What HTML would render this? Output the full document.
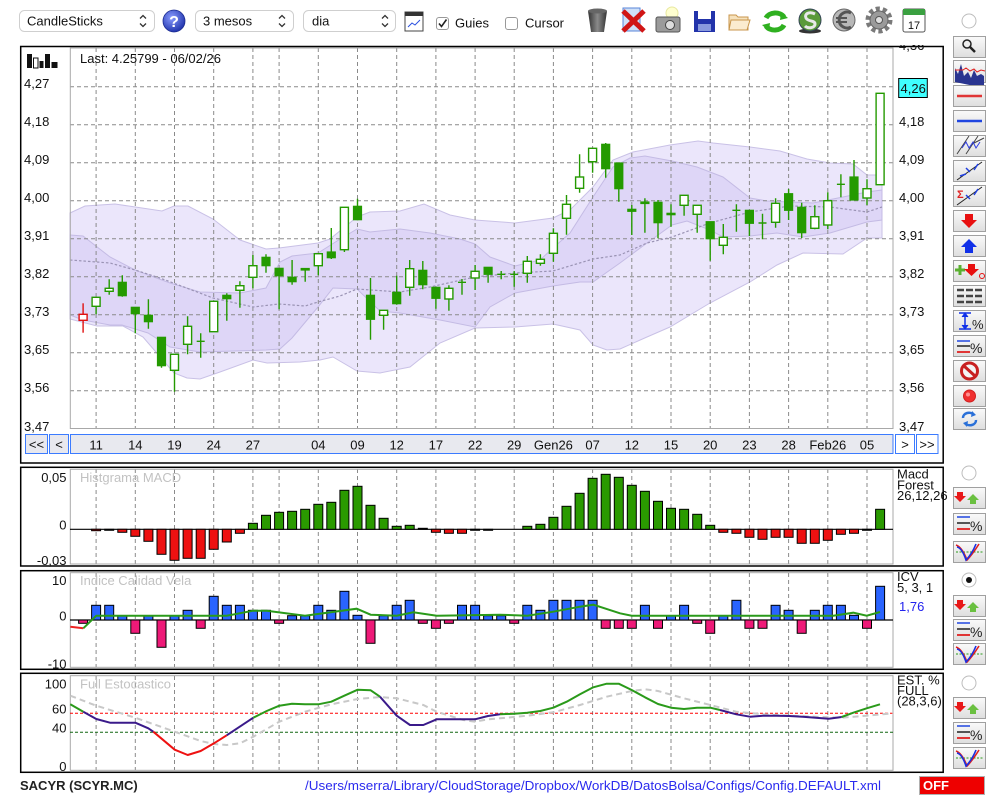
<!DOCTYPE html>
<html><head><meta charset="utf-8"><style>
html,body{margin:0;padding:0;background:#fff;width:1000px;height:800px;overflow:hidden}
svg{display:block;font-family:"Liberation Sans",Arial,sans-serif}
.t{font-size:13px;fill:#111}
.tt{font-size:13px;fill:#c2c2c2}
.grid{stroke:#8a8a8a;stroke-width:1;stroke-dasharray:4 3;fill:none}
.cw{stroke:#249a00;stroke-width:1.4;fill:none}
.cf{fill:#249a00;stroke:#249a00;stroke-width:1.2}
.ch{fill:#fff;stroke:#249a00;stroke-width:1.4}
.mg rect{fill:#2a9a00;stroke:#000;stroke-width:1}
.mr rect{fill:#ee1111;stroke:#000;stroke-width:1}
.ib rect{fill:#2a64ff;stroke:#000;stroke-width:1}
.ip rect{fill:#ee1a78;stroke:#000;stroke-width:1}
.btn{fill:url(#bg);stroke:#a0a0a0;stroke-width:1}
</style></head><body>
<svg width="1000" height="800" viewBox="0 0 1000 800" xmlns="http://www.w3.org/2000/svg">
<defs>
<linearGradient id="bg" x1="0" y1="0" x2="0" y2="1"><stop offset="0" stop-color="#fafafa"/><stop offset="1" stop-color="#dedede"/></linearGradient>
<radialGradient id="qb" cx="0.4" cy="0.35" r="0.7"><stop offset="0" stop-color="#8a9cff"/><stop offset="1" stop-color="#1b2fa8"/></radialGradient>
<linearGradient id="tr" x1="0" y1="0" x2="1" y2="0"><stop offset="0" stop-color="#333"/><stop offset="0.5" stop-color="#8a8a8a"/><stop offset="1" stop-color="#333"/></linearGradient>
<clipPath id="topclip"><rect x="890" y="45" width="60" height="10"/></clipPath>
</defs>

<!-- ============ TOOLBAR ============ -->
<rect x="19.5" y="10.5" width="135" height="21" rx="5" fill="#fff" stroke="#cfcfcf"/>
<text class="t" x="27" y="25.5" font-size="13.5">CandleSticks</text>
<path d="M140 18.5l3-3 3 3M140 23.5l3 3 3-3" stroke="#333" stroke-width="1.3" fill="none"/>
<circle cx="174" cy="21" r="11" fill="url(#qb)" stroke="#1a2a90" stroke-width="0.8"/>
<text x="174" y="27" text-anchor="middle" font-size="16" font-weight="bold" fill="#fff">?</text>
<rect x="195.5" y="10.5" width="98" height="21" rx="5" fill="#fff" stroke="#cfcfcf"/>
<text class="t" x="203" y="25.5" font-size="13.5">3 mesos</text>
<path d="M279 18.5l3-3 3 3M279 23.5l3 3 3-3" stroke="#333" stroke-width="1.3" fill="none"/>
<rect x="303.5" y="10.5" width="92" height="21" rx="5" fill="#fff" stroke="#cfcfcf"/>
<text class="t" x="312" y="25.5" font-size="13.5">dia</text>
<path d="M382 18.5l3-3 3 3M382 23.5l3 3 3-3" stroke="#333" stroke-width="1.3" fill="none"/>
<rect x="405" y="12" width="18" height="19" fill="#fff" stroke="#444"/>
<rect x="405" y="12" width="18" height="4" fill="#333"/>
<path d="M408 27l4-4 3 2 5-5" stroke="#2a50e0" stroke-width="1" fill="none"/>
<rect x="436.5" y="17.5" width="12" height="12" rx="2.5" fill="#fff" stroke="#999"/>
<path d="M439 23.5l2.5 3 5-7" stroke="#222" stroke-width="1.6" fill="none"/>
<text class="t" x="455" y="27.5" font-size="14">Guies</text>
<rect x="505.5" y="17.5" width="12" height="12" rx="2.5" fill="#fff" stroke="#999"/>
<text class="t" x="525" y="27.5" font-size="14">Cursor</text>
<!-- trash -->
<path d="M588 11h19l-3 21h-13z" fill="url(#tr)"/><ellipse cx="597.5" cy="11" rx="9.5" ry="2.5" fill="#666"/>
<!-- red x -->
<rect x="623" y="8" width="17" height="23" fill="#cfe0f8" stroke="#5a86d8"/>
<path d="M623 11l21 20M644 11l-21 20" stroke="#d01515" stroke-width="5"/>
<!-- camera -->
<circle cx="672" cy="13" r="6" fill="#ffffd0" stroke="#e8e8a0"/>
<rect x="656" y="17" width="24" height="15" rx="2" fill="#9a9a9a" stroke="#555"/>
<circle cx="670" cy="25" r="4.5" fill="#ddd" stroke="#444"/>
<!-- floppy -->
<rect x="694" y="11" width="21" height="21" fill="#2233aa"/>
<rect x="698" y="11" width="13" height="8" fill="#fff"/>
<rect x="698" y="24" width="13" height="7" fill="#8899dd"/>
<!-- folder -->
<path d="M729 15h7l2 2h10v13h-19z" fill="#f6e2bd" stroke="#c8964c"/>
<path d="M731 20h19l-3 10h-18z" fill="#fbecd0" stroke="#c8964c"/>
<!-- refresh -->
<path d="M766 18a10 8 0 0 1 18 -1" stroke="#2fb020" stroke-width="5" fill="none"/>
<path d="M784 25a10 8 0 0 1 -18 1" stroke="#2fb020" stroke-width="5" fill="none"/>
<path d="M781 12l7 6-8 2z M769 31l-7-6 8-2z" fill="#2fb020"/>
<!-- S coin -->
<ellipse cx="810" cy="31" rx="11" ry="2.5" fill="#333"/>
<circle cx="810" cy="20" r="11" fill="#5a9a3a" stroke="#345"/>
<path d="M815 14c-6-3-11 0-9 4s9 2 9 6-7 5-10 2" stroke="#e8e8e8" stroke-width="3" fill="none"/>
<!-- euro -->
<circle cx="844" cy="20" r="11" fill="#b8b8b8" stroke="#666"/>
<path d="M851 13a8 8 0 1 0 0 14" stroke="#555" stroke-width="3" fill="none"/>
<path d="M836 18h11M836 22h11" stroke="#555" stroke-width="2"/>
<!-- gear -->
<circle cx="879" cy="20" r="11" fill="none" stroke="#7a7a7a" stroke-width="5" stroke-dasharray="4 2.9"/>
<circle cx="879" cy="20" r="9" fill="#9a9a9a" stroke="#666"/>
<circle cx="879" cy="20" r="3.5" fill="#e0e0e0" stroke="#555"/>
<!-- calendar -->
<rect x="903" y="9" width="22" height="23" rx="2" fill="#fff" stroke="#555"/>
<rect x="903" y="9" width="22" height="6" fill="#3aa040"/>
<text x="914" y="29" text-anchor="middle" font-size="11" fill="#111">17</text>
<circle cx="969" cy="21" r="7" fill="#fff" stroke="#bdbdbd"/>

<!-- ============ RIGHT TOOL COLUMN ============ -->
<rect class="btn" x="953.5" y="36.5" width="32" height="21"/>
<circle cx="967" cy="44" r="4" fill="#eee" stroke="#222" stroke-width="1.5"/><path d="M970 47l5 5" stroke="#222" stroke-width="2.5"/>
<rect class="btn" x="953.5" y="60.5" width="32" height="22"/>
<path d="M955 82v-14l3 6 3-10 3 12 4-4 3 6 3-8 3 6 4-2 3 2v12z" fill="#2a3590"/>
<path d="M955 70h8l3-2 4 3 4-2 3 3 4-2 4 1" stroke="#e02020" fill="none"/>
<rect class="btn" x="953.5" y="85.5" width="32" height="21"/><path d="M957 96h25" stroke="#e03535" stroke-width="2.5"/>
<rect class="btn" x="953.5" y="110.5" width="32" height="21"/><path d="M957 121h25" stroke="#2046e0" stroke-width="2.5"/>
<rect class="btn" x="953.5" y="135.5" width="32" height="21"/>
<path d="M957 154l12-18M966 154l12-18M972 144l12-6" stroke="#444" fill="none"/><path d="M962 148l4-6 3 6 4-6 3 6 4-6" stroke="#3040e0" fill="none"/>
<rect class="btn" x="953.5" y="160.5" width="32" height="21"/>
<path d="M957 180l25-18" stroke="#222"/><path d="M966 168l4 4M978 164l-4 6M960 176l6-2" stroke="#2040e0" stroke-width="1.5"/>
<rect class="btn" x="953.5" y="185.5" width="32" height="21"/>
<path d="M957 205l25-18" stroke="#222"/><path d="M966 195l4 4M978 189l-4 6" stroke="#2040e0" stroke-width="1.5"/>
<text x="957" y="198" font-size="11" font-weight="bold" fill="#e02020">Σ</text>
<rect class="btn" x="953.5" y="210.5" width="32" height="21"/><path d="M965 214h8v6h4l-8 8-8-8h4z" fill="#e81010"/>
<rect class="btn" x="953.5" y="235.5" width="32" height="21"/><path d="M965 253h8v-6h4l-8-8-8 8h4z" fill="#1030e8"/>
<rect class="btn" x="953.5" y="260.5" width="32" height="21"/>
<path d="M955 270h10M960 265v10" stroke="#5ab030" stroke-width="3"/><path d="M968 264h7v5h4l-7.5 7-7.5-7h4z" fill="#e81010"/><circle cx="982" cy="276" r="2.5" fill="none" stroke="#e81010"/>
<rect class="btn" x="953.5" y="285.5" width="32" height="21"/>
<path d="M957 290h7M966 290h7M975 290h7M957 296h7M966 296h7M975 296h7M957 302h7M966 302h7M975 302h7" stroke="#444" stroke-width="2.5"/>
<rect class="btn" x="953.5" y="310.5" width="32" height="21"/>
<path d="M959 313h12M959 329h12M965 314v14" stroke="#1030e8" stroke-width="1.5"/><path d="M962 317l3-4 3 4M962 325l3 4 3-4" fill="#1030e8" stroke="#1030e8"/>
<text x="972" y="329" font-size="13" fill="#222">%</text>
<rect class="btn" x="953.5" y="335.5" width="32" height="21"/>
<path d="M957 341h13" stroke="#2046e0" stroke-width="1.5"/><path d="M957 346h13" stroke="#222" stroke-width="1.5"/><path d="M957 352h13" stroke="#e03535" stroke-width="2"/>
<text x="970" y="353" font-size="14" fill="#222">%</text>
<rect class="btn" x="953.5" y="360.5" width="32" height="21"/>
<circle cx="969.5" cy="371" r="8" fill="#f4f4f4" stroke="#c82020" stroke-width="3"/><path d="M964 366l11 10" stroke="#c82020" stroke-width="3"/>
<rect class="btn" x="953.5" y="385.5" width="32" height="21"/><circle cx="969.5" cy="396" r="6" fill="#f03030" stroke="#d02020"/><circle cx="968" cy="394.5" r="2" fill="#ff9090"/>
<rect class="btn" x="953.5" y="408.5" width="32" height="21"/>
<path d="M963 418a6 5 0 0 1 11 -3M976 420a6 5 0 0 1 -11 3" stroke="#2a70d8" stroke-width="2.5" fill="none"/>
<path d="M972 411l4 4-5 2zM967 427l-4-4 5-2z" fill="#2a70d8"/>

<!-- ============ MAIN PANEL ============ -->
<rect x="20.7" y="46.5" width="922.5" height="416.5" fill="#fff" stroke="#000" stroke-width="1.5"/>
<!-- bands -->
<polygon fill="#ebe6fb" stroke="#c9c1e6" stroke-width="1" points="70,213 85,206 115,204 162,211 174,206 188,206 213,219 240,240 266,249 279,248 318,243 330,239 357,217 370,212 400,211 424,204 450,215 475,220 515,223 553,218 570,210 593,187 613,160 633,152 670,145 698,141 713,143 750,147 780,151 807,159 830,163 853,164 867,175 882,175 882,238 867,238 843,254 803,253 777,265 750,282 710,303 670,327 647,337 620,349 607,350 593,345 580,330 553,324 515,327 475,328 440,343 410,367 380,373 357,371 333,357 320,360 300,362 267,363 253,360 220,372 200,379 187,378 174,373 143,337 123,326 97,326 70,319"/>
<polygon fill="#ded6f7" stroke="#c4bbe4" stroke-width="1" points="70,235 83,236 110,257 135,270 170,283 200,292 240,293 266,288 280,262 292,256 318,253 337,241 357,229 370,232 400,229 430,233 460,239 475,244 490,257 515,266 540,260 553,248 570,233 593,197 613,167 630,158 645,156 672,161 697,167 723,177 750,198 767,201 813,203 843,197 867,192 882,190 882,220 867,222 830,233 803,237 777,233 750,236 723,237 710,230 687,221 672,225 647,243 620,263 593,282 580,282 553,286 515,293 490,307 475,327 440,320 400,313 380,311 357,289 333,288 318,307 292,338 280,349 266,350 200,352 170,347 148,333 122,325 110,325 83,320 70,315"/>
<!-- grid -->
<path class="grid" d="M70 86.7H893M70 124.7H893M70 162.7H893M70 200.7H893M70 238.7H893M70 276.7H893M70 314.7H893M70 352.7H893M70 390.7H893"/>
<path class="grid" d="M96.1 48V428M135.3 48V428M174.5 48V428M213.7 48V428M252.9 48V428M279.1 48V428M318.3 48V428M357.5 48V428M396.7 48V428M435.9 48V428M475.1 48V428M514.2 48V428M553.4 48V428M592.6 48V428M631.8 48V428M671 48V428M710.2 48V428M749.4 48V428M788.6 48V428M827.8 48V428M867 48V428"/>
<polyline fill="none" stroke="#9a93b4" stroke-width="1.2" stroke-dasharray="2.5 2" points="70,260 110,263 135,270 160,278 213,298 253,307 279,304 305,306 318,302 340,296 357,289 400,292 430,287 475,277 515,273 553,271 593,259 620,255 647,243 672,237 710,223 750,212 790,206 830,207 867,212 882,207"/>
<rect x="70.3" y="48" width="822.7" height="380.5" fill="none" stroke="#a8a8a8"/>
<!-- candles: wicks -->
<path class="cw" d="M96.1 297.3V314.3M109.2 279.3V294.7M122.3 275.3V296.7M135.3 307.3V333.3M148.4 299.3V328.7M161.5 337.3V367.7M174.5 354.3V391.7M187.6 316.3V354.3M200.7 333.3V357.7M196.7 341.3H204.7M226.8 293.3V320.7M239.9 281.3V307.7M252.9 255V288.3M266 254.3V272.7M279.1 268.3V309.3M292.1 260V284.7M305.2 268.7V281.7M318.3 253.7V275.3M331.3 228V259M344.4 207.3V252M357.5 198.7V220.3M370.5 278V339.7M383.6 310.3V329.7M396.7 275.7V304.7M409.7 260V295.7M422.8 261V289.3M435.9 287.3V308.7M448.9 285.3V310.7M462 279V294.7M458 282.3H466M475.1 265V290M488.1 267.3V282.7M501.2 271V279.3M497.2 274.3H505.2M514.2 271V286.7M510.2 274.3H518.2M527.3 256V282.7M540.4 254.3V265.7M553.4 228.3V261.7M566.5 195V234.7M579.6 154.3V192.7M592.6 148.3V172.7M605.7 143V177.7M618.8 163V201.7M631.8 205V235M644.9 198.3V232.7M658 200V238.3M671 204.3V226.7M684.1 195.3V215.7M697.2 205.3V232.7M710.2 221.7V260.7M723.3 224V254.3M736.4 204.3V231.7M732.4 210.3H740.4M749.4 210.3V236M762.5 213.7V239.3M758.5 223H766.5M775.6 198.3V227.7M788.6 189V220M801.7 202.7V238M814.8 205.3V229.3M827.8 192.3V229.3M840.9 174.3V197.3M836.9 184.3H844.9M854 160V200M867 179.3V205"/>
<path d="M83.1 303.3V332.7" stroke="#e01010" stroke-width="1.4"/>
<rect x="79.1" y="314.3" width="8" height="6" fill="#fff" stroke="#e01010" stroke-width="1.4"/>
<!-- filled -->
<g class="cf">
<rect x="118.3" y="282.3" width="8" height="13.4"/><rect x="131.3" y="307.3" width="8" height="6.4"/><rect x="144.4" y="315.3" width="8" height="6.4"/><rect x="157.5" y="337.3" width="8" height="28.4"/><rect x="222.8" y="295.3" width="8" height="3.4"/><rect x="262" y="257.3" width="8" height="8.4"/><rect x="275.1" y="268.3" width="8" height="7.4"/><rect x="288.1" y="277.3" width="8" height="4.4"/><rect x="301.2" y="268.5" width="8" height="1.5"/><rect x="327.3" y="252" width="8" height="5.7"/><rect x="353.5" y="206.3" width="8" height="13.4"/><rect x="366.5" y="295.3" width="8" height="24"/><rect x="392.7" y="292.3" width="8" height="11.4"/><rect x="418.8" y="270.3" width="8" height="14.4"/><rect x="431.9" y="287.3" width="8" height="11"/><rect x="484.1" y="267.3" width="8" height="7"/><rect x="601.7" y="144.3" width="8" height="24.4"/><rect x="614.8" y="163" width="8" height="25.7"/><rect x="627.8" y="209.3" width="8" height="2"/><rect x="640.9" y="202" width="8" height="1.5"/><rect x="654" y="202.3" width="8" height="20.4"/><rect x="667" y="213.3" width="8" height="1.4"/><rect x="706.2" y="221.7" width="8" height="17"/><rect x="745.4" y="210.3" width="8" height="13"/><rect x="784.6" y="193.7" width="8" height="16.6"/><rect x="797.7" y="207.3" width="8" height="25.4"/><rect x="850" y="177" width="8" height="23"/>
</g>
<!-- hollow -->
<g class="ch">
<rect x="92.1" y="297.3" width="8" height="9"/><rect x="105.2" y="288.3" width="8" height="3"/><rect x="170.5" y="354.3" width="8" height="16"/><rect x="183.6" y="326.3" width="8" height="18"/><rect x="209.7" y="301.3" width="8" height="30.4"/><rect x="235.9" y="285.7" width="8" height="4.6"/><rect x="248.9" y="265.7" width="8" height="11.6"/><rect x="314.3" y="253.7" width="8" height="12"/><rect x="340.4" y="207.3" width="8" height="42.4"/><rect x="379.6" y="310.3" width="8" height="5"/><rect x="405.7" y="268.7" width="8" height="18.6"/><rect x="444.9" y="288.3" width="8" height="10.7"/><rect x="471.1" y="271.3" width="8" height="6.7"/><rect x="523.3" y="261.3" width="8" height="12"/><rect x="536.4" y="259.3" width="8" height="4"/><rect x="549.4" y="233.3" width="8" height="20"/><rect x="562.5" y="204.3" width="8" height="14"/><rect x="575.6" y="177" width="8" height="11.3"/><rect x="588.6" y="148.3" width="8" height="13.4"/><rect x="680.1" y="195.3" width="8" height="10"/><rect x="693.2" y="205.3" width="8" height="9"/><rect x="719.3" y="237.3" width="8" height="8"/><rect x="771.6" y="203.3" width="8" height="19"/><rect x="810.8" y="216.7" width="8" height="11.6"/><rect x="823.8" y="200.7" width="8" height="24.3"/><rect x="863" y="188.7" width="8" height="9.3"/><rect x="876.1" y="93.3" width="8" height="91.4"/>
</g>
<!-- labels -->
<g fill="#111">
<rect x="27" y="54" width="5" height="14"/><rect x="33.5" y="58" width="4.5" height="10" fill="#fff" stroke="#111"/><rect x="39.5" y="61" width="4" height="7"/><rect x="45" y="54" width="5" height="14"/><rect x="51.5" y="62" width="6" height="6"/>
</g>
<text class="t" x="80" y="63">Last: 4.25799 - 06/02/26</text>
<g class="t">
<text x="24" y="88">4,27</text><text x="24" y="126">4,18</text><text x="24" y="164">4,09</text><text x="24" y="202">4,00</text><text x="24" y="240">3,91</text><text x="24" y="278">3,82</text><text x="24" y="316">3,73</text><text x="24" y="354">3,65</text><text x="24" y="392">3,56</text><text x="24" y="431">3,47</text>
<text x="899" y="126">4,18</text><text x="899" y="164">4,09</text><text x="899" y="202">4,00</text><text x="899" y="240">3,91</text><text x="899" y="278">3,82</text><text x="899" y="316">3,73</text><text x="899" y="354">3,65</text><text x="899" y="392">3,56</text><text x="899" y="431">3,47</text>
</g>
<text class="t" x="899" y="50" clip-path="url(#topclip)">4,36</text>
<rect x="898.7" y="78.5" width="28.6" height="19" fill="#40ffff" stroke="#000"/>
<text class="t" x="900.5" y="93">4,26</text>
<!-- nav -->
<rect x="25.5" y="434.5" width="22" height="19" fill="#e8e8ee" stroke="#3b7bff"/>
<rect x="49.5" y="434.5" width="19" height="19" fill="#e8e8ee" stroke="#3b7bff"/>
<rect x="70.5" y="434.5" width="822.5" height="19" fill="#e8e9ef" stroke="#3b7bff"/>
<rect x="895.5" y="434.5" width="19" height="19" fill="#fff" stroke="#3b7bff"/>
<rect x="916.5" y="434.5" width="21.5" height="19" fill="#fff" stroke="#3b7bff"/>
<g class="t" text-anchor="middle">
<text x="36.5" y="449">&lt;&lt;</text><text x="59" y="449">&lt;</text><text x="905" y="449">&gt;</text><text x="927" y="449">&gt;&gt;</text>
<text x="96.1" y="449.5">11</text><text x="135.3" y="449.5">14</text><text x="174.5" y="449.5">19</text><text x="213.7" y="449.5">24</text><text x="252.9" y="449.5">27</text><text x="318.3" y="449.5">04</text><text x="357.5" y="449.5">09</text><text x="396.7" y="449.5">12</text><text x="435.9" y="449.5">17</text><text x="475.1" y="449.5">22</text><text x="514.2" y="449.5">29</text><text x="553.4" y="449.5">Gen26</text><text x="592.6" y="449.5">07</text><text x="631.8" y="449.5">12</text><text x="671" y="449.5">15</text><text x="710.2" y="449.5">20</text><text x="749.4" y="449.5">23</text><text x="788.6" y="449.5">28</text><text x="827.8" y="449.5">Feb26</text><text x="867" y="449.5">05</text>
</g>

<!-- ============ MACD PANEL ============ -->
<rect x="20.7" y="467.3" width="922.5" height="98.7" fill="#fff" stroke="#000" stroke-width="1.5"/>
<path class="grid" d="M96.1 469V564M135.3 469V564M174.5 469V564M213.7 469V564M252.9 469V564M279.1 469V564M318.3 469V564M357.5 469V564M396.7 469V564M435.9 469V564M475.1 469V564M514.2 469V564M553.4 469V564M592.6 469V564M631.8 469V564M671 469V564M710.2 469V564M749.4 469V564M788.6 469V564M827.8 469V564M867 469V564"/>
<rect x="70.3" y="469.3" width="822.7" height="94.7" fill="none" stroke="#a8a8a8"/>
<text class="tt" x="80" y="482">Histgrama MACD</text>
<path d="M70 529.3H893" stroke="#000" stroke-width="1.2"/>
<g class="mr">
<rect x="91.6" y="529.3" width="9" height="1.4"/><rect x="104.7" y="529.3" width="9" height="1"/><rect x="117.8" y="529.3" width="9" height="3"/><rect x="130.8" y="529.3" width="9" height="7"/><rect x="143.9" y="529.3" width="9" height="12"/><rect x="157" y="529.3" width="9" height="25"/><rect x="170" y="529.3" width="9" height="31"/><rect x="183.1" y="529.3" width="9" height="29"/><rect x="196.2" y="529.3" width="9" height="29"/><rect x="209.2" y="529.3" width="9" height="20"/><rect x="222.3" y="529.3" width="9" height="12.7"/><rect x="235.4" y="529.3" width="9" height="4"/><rect x="431.4" y="529.3" width="9" height="3"/><rect x="444.4" y="529.3" width="9" height="4"/><rect x="457.5" y="529.3" width="9" height="4"/><rect x="470.6" y="529.3" width="9" height="1"/><rect x="483.6" y="529.3" width="9" height="1"/><rect x="718.8" y="529.3" width="9" height="3"/><rect x="731.9" y="529.3" width="9" height="4"/><rect x="744.9" y="529.3" width="9" height="8"/><rect x="758" y="529.3" width="9" height="10"/><rect x="771.1" y="529.3" width="9" height="8"/><rect x="784.1" y="529.3" width="9" height="8"/><rect x="797.2" y="529.3" width="9" height="14"/><rect x="810.3" y="529.3" width="9" height="14"/><rect x="823.3" y="529.3" width="9" height="11"/><rect x="836.4" y="529.3" width="9" height="5"/><rect x="849.5" y="529.3" width="9" height="4"/><rect x="862.5" y="529.3" width="9" height="1"/>
</g>
<g class="mg">
<rect x="248.4" y="523.3" width="9" height="6"/><rect x="261.5" y="515.3" width="9" height="14"/><rect x="274.6" y="512.3" width="9" height="17"/><rect x="287.6" y="511.3" width="9" height="18"/><rect x="300.7" y="509.3" width="9" height="20"/><rect x="313.8" y="504.3" width="9" height="25"/><rect x="326.8" y="502.3" width="9" height="27"/><rect x="339.9" y="490.3" width="9" height="39"/><rect x="353" y="486.3" width="9" height="43"/><rect x="366" y="505.3" width="9" height="24"/><rect x="379.1" y="518.3" width="9" height="11"/><rect x="392.2" y="526.3" width="9" height="3"/><rect x="405.2" y="525.3" width="9" height="4"/><rect x="418.3" y="528.3" width="9" height="1"/><rect x="522.8" y="526.3" width="9" height="3"/><rect x="535.9" y="524.3" width="9" height="5"/><rect x="548.9" y="517.3" width="9" height="12"/><rect x="562" y="506.3" width="9" height="23"/><rect x="575.1" y="493.3" width="9" height="36"/><rect x="588.1" y="478.3" width="9" height="51"/><rect x="601.2" y="474.3" width="9" height="55"/><rect x="614.3" y="477.3" width="9" height="52"/><rect x="627.3" y="485.3" width="9" height="44"/><rect x="640.4" y="491.3" width="9" height="38"/><rect x="653.5" y="501.3" width="9" height="28"/><rect x="666.5" y="508.3" width="9" height="21"/><rect x="679.6" y="509.3" width="9" height="20"/><rect x="692.7" y="514.3" width="9" height="15"/><rect x="705.7" y="525.3" width="9" height="4"/><rect x="875.6" y="509.3" width="9" height="20"/>
</g>
<g class="t" text-anchor="end"><text x="66.5" y="482">0,05</text><text x="66.5" y="529.5">0</text><text x="66.5" y="565">-0,03</text></g>
<g class="t"><text x="897" y="478.5">Macd</text><text x="897" y="489.5">Forest</text><text x="897" y="500">26,12,26</text></g>

<!-- ============ ICV PANEL ============ -->
<rect x="20.7" y="570.7" width="922.5" height="98.6" fill="#fff" stroke="#000" stroke-width="1.5"/>
<path class="grid" d="M96.1 573V667M135.3 573V667M174.5 573V667M213.7 573V667M252.9 573V667M279.1 573V667M318.3 573V667M357.5 573V667M396.7 573V667M435.9 573V667M475.1 573V667M514.2 573V667M553.4 573V667M592.6 573V667M631.8 573V667M671 573V667M710.2 573V667M749.4 573V667M788.6 573V667M827.8 573V667M867 573V667"/>
<rect x="70.3" y="572.7" width="822.7" height="94.6" fill="none" stroke="#a8a8a8"/>
<text class="tt" x="80" y="585">Indice Calidad Vela</text>
<path d="M70 620H893" stroke="#000" stroke-width="1.2"/>
<g class="ib">
<rect x="91.6" y="605.3" width="9" height="14.7"/><rect x="104.7" y="605.3" width="9" height="14.7"/><rect x="117.8" y="615.7" width="9" height="4.3"/><rect x="143.9" y="615.7" width="9" height="4.3"/><rect x="170" y="615.7" width="9" height="4.3"/><rect x="183.1" y="610.3" width="9" height="9.7"/><rect x="209.2" y="596.3" width="9" height="23.7"/><rect x="222.3" y="605.3" width="9" height="14.7"/><rect x="235.4" y="605.3" width="9" height="14.7"/><rect x="248.4" y="610.3" width="9" height="9.7"/><rect x="261.5" y="610.3" width="9" height="9.7"/><rect x="287.6" y="615.7" width="9" height="4.3"/><rect x="300.7" y="615.7" width="9" height="4.3"/><rect x="313.8" y="605.3" width="9" height="14.7"/><rect x="326.8" y="610.3" width="9" height="9.7"/><rect x="339.9" y="591.3" width="9" height="28.7"/><rect x="353" y="615.3" width="9" height="4.7"/><rect x="379.1" y="615.7" width="9" height="4.3"/><rect x="392.2" y="605.3" width="9" height="14.7"/><rect x="405.2" y="600.3" width="9" height="19.7"/><rect x="457.5" y="605.3" width="9" height="14.7"/><rect x="470.6" y="605.3" width="9" height="14.7"/><rect x="483.6" y="615.7" width="9" height="4.3"/><rect x="496.7" y="615.7" width="9" height="4.3"/><rect x="522.8" y="605.3" width="9" height="14.7"/><rect x="535.9" y="610.3" width="9" height="9.7"/><rect x="548.9" y="600.3" width="9" height="19.7"/><rect x="562" y="600.3" width="9" height="19.7"/><rect x="575.1" y="600.3" width="9" height="19.7"/><rect x="588.1" y="600.3" width="9" height="19.7"/><rect x="640.4" y="605.3" width="9" height="14.7"/><rect x="666.5" y="615.7" width="9" height="4.3"/><rect x="679.6" y="605.3" width="9" height="14.7"/><rect x="718.8" y="615.7" width="9" height="4.3"/><rect x="731.9" y="600.3" width="9" height="19.7"/><rect x="771.1" y="605.3" width="9" height="14.7"/><rect x="784.1" y="610.3" width="9" height="9.7"/><rect x="810.3" y="610.3" width="9" height="9.7"/><rect x="823.3" y="605.3" width="9" height="14.7"/><rect x="836.4" y="605.3" width="9" height="14.7"/><rect x="849.5" y="615.3" width="9" height="4.7"/><rect x="875.6" y="586.3" width="9" height="33.7"/>
</g>
<g class="ip">
<rect x="78.6" y="620" width="9" height="3.3"/><rect x="130.8" y="620" width="9" height="13.3"/><rect x="157" y="620" width="9" height="27.3"/><rect x="196.2" y="620" width="9" height="8.3"/><rect x="274.6" y="620" width="9" height="3.3"/><rect x="366" y="620" width="9" height="23.3"/><rect x="418.3" y="620" width="9" height="3.3"/><rect x="431.4" y="620" width="9" height="8.3"/><rect x="444.4" y="620" width="9" height="3.3"/><rect x="509.7" y="620" width="9" height="3.3"/><rect x="601.2" y="620" width="9" height="8.3"/><rect x="614.3" y="620" width="9" height="8.3"/><rect x="627.3" y="620" width="9" height="8.3"/><rect x="653.5" y="620" width="9" height="8.3"/><rect x="692.7" y="620" width="9" height="3.3"/><rect x="705.7" y="620" width="9" height="13.3"/><rect x="744.9" y="620" width="9" height="8.3"/><rect x="758" y="620" width="9" height="8.3"/><rect x="797.2" y="620" width="9" height="13.3"/><rect x="862.5" y="620" width="9" height="8.3"/>
</g>
<polyline fill="none" stroke="#ee2222" stroke-width="2" points="70.3,626.7 83.3,628.3"/>
<polyline fill="none" stroke="#2a9a1a" stroke-width="2" points="83.3,628.3 96.3,615.7 226.7,615.7 253.3,610.7 266.7,610.7 305,615.7 356.7,608.7 370.7,614.7 396.7,615.7 413.3,612.3 436.7,615.7 500,614.7 527.3,615.7 553.3,611.7 580,606.7 593.3,604.7 620,613.3 631.7,615.7 833.3,615.7 853.3,612.7 866.7,615.7 880,612"/>
<g class="t" text-anchor="end"><text x="66.5" y="585">10</text><text x="66.5" y="620.5">0</text><text x="66.5" y="668.5">-10</text></g>
<g class="t"><text x="897" y="581">ICV</text><text x="897" y="592">5, 3, 1</text><text x="899" y="611" fill="#2222ee">1,76</text></g>

<!-- ============ STOCH PANEL ============ -->
<rect x="20.7" y="673.3" width="922.5" height="99" fill="#fff" stroke="#000" stroke-width="1.5"/>
<path class="grid" d="M96.1 676V770M135.3 676V770M174.5 676V770M213.7 676V770M252.9 676V770M279.1 676V770M318.3 676V770M357.5 676V770M396.7 676V770M435.9 676V770M475.1 676V770M514.2 676V770M553.4 676V770M592.6 676V770M631.8 676V770M671 676V770M710.2 676V770M749.4 676V770M788.6 676V770M827.8 676V770M867 676V770"/>
<rect x="70.3" y="675.7" width="822.7" height="94.6" fill="none" stroke="#a8a8a8"/>
<path d="M70 713.3H893" stroke="#ff0000" stroke-width="1" stroke-dasharray="3 2"/>
<path d="M70 732.3H893" stroke="#116611" stroke-width="1" stroke-dasharray="3 2"/>
<text class="tt" x="80" y="688.5">Full Estocastico</text>
<polyline fill="none" stroke="#c8c8c8" stroke-width="2" stroke-dasharray="6 4" points="70.3,695.7 96.3,705.7 135.3,717.7 174.7,731.7 200.7,741 214,744 226.7,745 240,743.3 253.3,736.7 279.3,721.7 305,711.7 331.3,704.3 357.7,699 380,697 396.7,698.3 423.3,705 436.7,711.7 463.3,720 475,721.7 488,719.3 500,718.3 527.3,715.7 553.3,712.3 580,705 606.7,696.7 631.7,691 645,689.3 658,691 684,698.3 710.3,705 736.3,711.7 763.3,714.3 789.3,715.7 815.7,716.7 841.7,717.7 866.7,715.7 893,713.3"/>
<g fill="none" stroke-width="2" stroke-linejoin="round">
<polyline stroke="#2a9a1a" points="70.3,704.3 83.3,711.7"/>
<polyline stroke="#3a1a8a" points="83.3,711.7 96.3,719 110,722.7 135.3,722.7 148.3,728.3 153.3,731.7"/>
<polyline stroke="#ee1111" points="153.3,731.7 174.7,749.7 187.7,755 200.7,751 214,743.3 226.7,735.3"/>
<polyline stroke="#3a1a8a" points="226.7,735.3 253.3,717.7"/>
<polyline stroke="#2a9a1a" points="253.3,717.7 266.7,711 279.3,705.7 292,703.7 305,704.3 318.3,704.3 331.3,701.7 344.3,695.7 357.7,689.7 370.7,690.3 380,696.7"/>
<polyline stroke="#3a1a8a" points="380,696.7 396.7,715.7 410,725 423.3,725 436.7,719.3 463.3,719.3 475,719.3 488,716 500,714.3"/>
<polyline stroke="#2a9a1a" points="500,714.3 514.3,713.7 527.3,712.7 540.3,711 553.3,707.7 566.7,701.7 580,694.3 593.3,687.3 606.7,683.7 618.7,683.7 631.7,690 645,697.3 658,704 671,707.7 684,709 697,707.7 710.3,707.7 720,710"/>
<polyline stroke="#3a1a8a" points="720,710 736.3,714.3 750,716.7 763.3,715.7 776.7,715.7 789.3,716 802.7,716.7 815.7,717.7 828.7,718.7 841.7,717"/>
<polyline stroke="#2a9a1a" points="841.7,717 853.3,712.7 866.7,708.3 880,704.3"/>
</g>
<g class="t" text-anchor="end"><text x="66.5" y="688.5">100</text><text x="66.5" y="713.5">60</text><text x="66.5" y="732.5">40</text><text x="66.5" y="771">0</text></g>
<g class="t"><text x="897" y="684.5">EST. %</text><text x="897" y="695">FULL</text><text x="897" y="705.5">(28,3,6)</text></g>

<!-- ============ INDICATOR SIDE BUTTONS ============ -->
<circle cx="969" cy="473" r="7" fill="#fff" stroke="#bdbdbd"/>
<circle cx="969" cy="580" r="7" fill="#fff" stroke="#bdbdbd"/><circle cx="969" cy="580" r="3" fill="#111"/>
<circle cx="969" cy="683" r="7" fill="#fff" stroke="#bdbdbd"/>
<g>
<rect class="btn" x="953.5" y="487.5" width="32" height="21"/>
<path d="M957 492h6v4h3l-6 6-6-6h3z" fill="#e81818"/><path d="M974 504h-6v-4h-3l6-6 6 6h-3z" transform="translate(2,0)" fill="#6ac040"/>
<rect class="btn" x="953.5" y="513.5" width="32" height="21"/>
<path d="M957 517h13" stroke="#2046e0" stroke-width="1.5"/><path d="M957 523h13" stroke="#222" stroke-width="1.5"/><path d="M957 529h13" stroke="#e03535" stroke-width="2"/><text x="970" y="531" font-size="14" fill="#222">%</text>
<rect class="btn" x="953.5" y="541.5" width="32" height="21"/>
<path d="M956 552h28" stroke="#2a9a1a" stroke-dasharray="2 1.5"/><path d="M956 545q6 2 11 15 5-5 12-16" stroke="#e02020" stroke-width="1.6" fill="none"/><path d="M957 547q5 1 9 13q6-6 10-16" stroke="#1a30e0" stroke-width="1.6" fill="none"/>
</g>
<g transform="translate(0,108)">
<rect class="btn" x="953.5" y="487.5" width="32" height="21"/>
<path d="M957 492h6v4h3l-6 6-6-6h3z" fill="#e81818"/><path d="M974 504h-6v-4h-3l6-6 6 6h-3z" transform="translate(2,0)" fill="#6ac040"/>
<rect class="btn" x="953.5" y="511.5" width="32" height="21"/>
<path d="M957 515h13" stroke="#2046e0" stroke-width="1.5"/><path d="M957 521h13" stroke="#222" stroke-width="1.5"/><path d="M957 527h13" stroke="#e03535" stroke-width="2"/><text x="970" y="529" font-size="14" fill="#222">%</text>
<rect class="btn" x="953.5" y="535.5" width="32" height="21"/>
<path d="M956 546h28" stroke="#2a9a1a" stroke-dasharray="2 1.5"/><path d="M956 539q6 2 11 15 5-5 12-16" stroke="#e02020" stroke-width="1.6" fill="none"/><path d="M957 541q5 1 9 13q6-6 10-16" stroke="#1a30e0" stroke-width="1.6" fill="none"/>
</g>
<g transform="translate(0,210)">
<rect class="btn" x="953.5" y="487.5" width="32" height="21"/>
<path d="M957 492h6v4h3l-6 6-6-6h3z" fill="#e81818"/><path d="M974 504h-6v-4h-3l6-6 6 6h-3z" transform="translate(2,0)" fill="#6ac040"/>
<rect class="btn" x="953.5" y="512.5" width="32" height="21"/>
<path d="M957 516h13" stroke="#2046e0" stroke-width="1.5"/><path d="M957 522h13" stroke="#222" stroke-width="1.5"/><path d="M957 528h13" stroke="#e03535" stroke-width="2"/><text x="970" y="530" font-size="14" fill="#222">%</text>
<rect class="btn" x="953.5" y="537.5" width="32" height="21"/>
<path d="M956 548h28" stroke="#2a9a1a" stroke-dasharray="2 1.5"/><path d="M956 541q6 2 11 15 5-5 12-16" stroke="#e02020" stroke-width="1.6" fill="none"/><path d="M957 543q5 1 9 13q6-6 10-16" stroke="#1a30e0" stroke-width="1.6" fill="none"/>
</g>

<!-- ============ BOTTOM BAR ============ -->
<text x="20" y="790" font-size="13" font-weight="bold" fill="#222">SACYR (SCYR.MC)</text>
<text x="305" y="790" font-size="13" fill="#2a2aee" textLength="576" lengthAdjust="spacingAndGlyphs">/Users/mserra/Library/CloudStorage/Dropbox/WorkDB/DatosBolsa/Configs/Config.DEFAULT.xml</text>
<rect x="919.5" y="776.5" width="65" height="18" fill="#ee0000" stroke="#b0b0b0"/>
<text x="923" y="790" font-size="13" font-weight="bold" fill="#fff">OFF</text>
</svg>
</body></html>
